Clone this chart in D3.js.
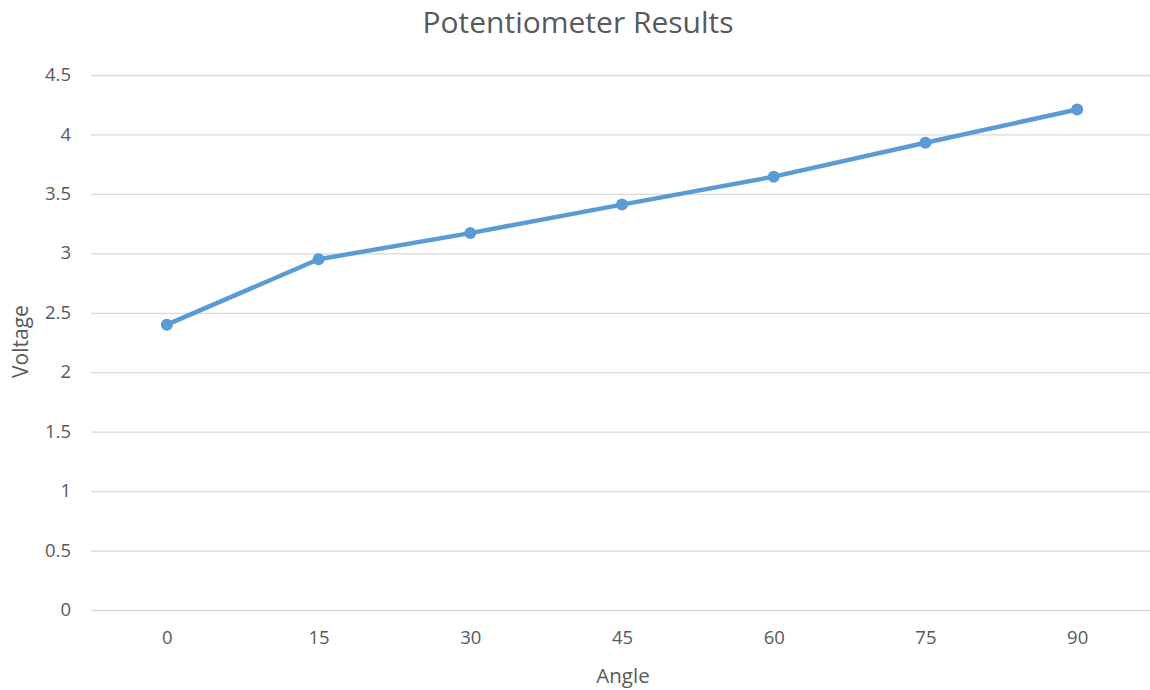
<!DOCTYPE html>
<html><head><meta charset="utf-8">
<script src="https://cdn.jsdelivr.net/npm/d3@7"></script>
<style>body{margin:0;background:#fff}svg{display:block}</style>
</head><body>
<svg id="c" width="1150" height="690"></svg>
<script>
const categories = ["0","15","30","45","60","75","90"];
const voltage = [2.40, 2.95, 3.17, 3.41, 3.645, 3.93, 4.21];
const yTicks = [0,0.5,1,1.5,2,2.5,3,3.5,4,4.5];

const svg = d3.select("#c");
const font = "'Open Sans', 'Liberation Sans', sans-serif";
const x = d3.scalePoint().domain(categories).range([91,1153]).padding(0.5);
const y = d3.scaleLinear().domain([0,4.5]).range([610,75]);

svg.append("text").attr("x",578).attr("y",33).attr("text-anchor","middle")
  .attr("font-family",font).attr("font-size",30).attr("fill","#595959").text("Potentiometer Results");

const ya = svg.append("g").attr("transform","translate(91,0)")
  .call(d3.axisLeft(y).tickValues(yTicks).tickSize(-1062).tickPadding(20).tickFormat(d=>String(d)));
ya.select(".domain").remove();
ya.selectAll("line").attr("stroke","#d9d9d9").attr("stroke-width",1.3);
ya.selectAll("text").attr("font-family",font).attr("font-size",18.5).attr("fill","#595959")
  .attr("dy","0.3em");

const xa = svg.append("g").attr("transform","translate(0,610)")
  .call(d3.axisBottom(x).tickSize(0).tickPadding(21));
xa.select(".domain").remove();
xa.selectAll("text").attr("font-family",font).attr("font-size",18.5).attr("fill","#595959");

svg.append("text").attr("x",623).attr("y",683).attr("text-anchor","middle")
  .attr("font-family",font).attr("font-size",20.5).attr("fill","#595959").text("Angle");
svg.append("text").attr("transform","translate(28,341.5) rotate(-90)").attr("text-anchor","middle")
  .attr("font-family",font).attr("font-size",21).attr("fill","#595959").text("Voltage");

const line = d3.line().x((d,i)=>x(categories[i])).y(d=>y(d));
svg.append("path").datum(voltage).attr("d",line).attr("fill","none")
  .attr("stroke","#5b9bd5").attr("stroke-width",4.5).attr("stroke-linejoin","round").attr("stroke-linecap","round");
svg.selectAll("circle.pt").data(voltage).join("circle").attr("class","pt")
  .attr("cx",(d,i)=>x(categories[i])).attr("cy",d=>y(d)).attr("r",6).attr("fill","#5b9bd5");
</script>
</body></html>
